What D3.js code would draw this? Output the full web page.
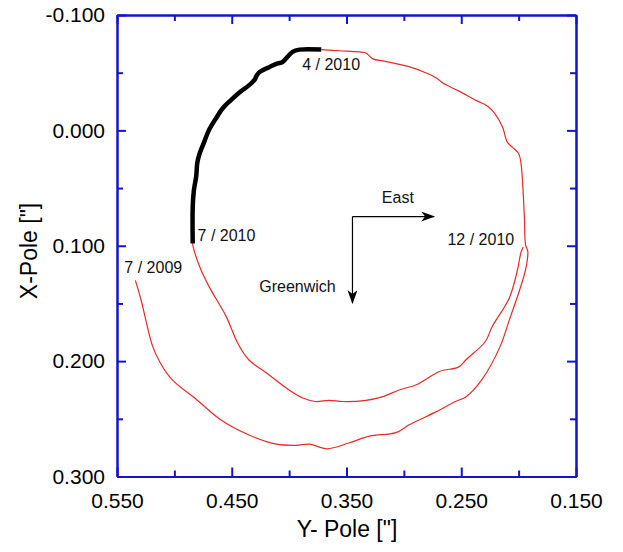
<!DOCTYPE html>
<html>
<head>
<meta charset="utf-8">
<script src="https://cdn.jsdelivr.net/npm/d3@7"></script>
<style>
  html, body { margin: 0; padding: 0; background: #fff; }
  svg { display: block; }
  text { font-family: "Liberation Sans", Arial, Helvetica, sans-serif; }
</style>
</head>
<body>
<script>
// Pole coordinates: [Y-Pole ("), X-Pole (")]
const segment2009to2010Apr = [
  [0.534, 0.130], [0.529, 0.147], [0.519, 0.187], [0.512, 0.202], [0.502, 0.216],
  [0.481, 0.233], [0.458, 0.252], [0.435, 0.264], [0.411, 0.272], [0.394, 0.273],
  [0.382, 0.272], [0.367, 0.276], [0.348, 0.271], [0.330, 0.265], [0.307, 0.262],
  [0.295, 0.255], [0.272, 0.244], [0.255, 0.235], [0.246, 0.231], [0.232, 0.216],
  [0.216, 0.187], [0.208, 0.164], [0.200, 0.141], [0.194, 0.121], [0.192, 0.105],
  [0.194, 0.099], [0.195, 0.075], [0.198, 0.028], [0.200, 0.020], [0.205, 0.015],
  [0.210, 0.010], [0.214, -0.003], [0.221, -0.015], [0.227, -0.021], [0.237, -0.026],
  [0.252, -0.034], [0.266, -0.041], [0.271, -0.045], [0.281, -0.050], [0.295, -0.055],
  [0.317, -0.060], [0.327, -0.062], [0.333, -0.067], [0.339, -0.068], [0.356, -0.069],
  [0.372, -0.070]
];
const segment2010AprToJul = [
  [0.372, -0.070], [0.391, -0.070], [0.397, -0.068], [0.403, -0.062], [0.406, -0.059],
  [0.410, -0.058], [0.417, -0.055], [0.425, -0.051], [0.428, -0.048], [0.430, -0.044],
  [0.435, -0.039], [0.442, -0.034], [0.451, -0.026], [0.458, -0.019], [0.464, -0.010],
  [0.470, 0.000], [0.474, 0.010], [0.478, 0.020], [0.480, 0.028], [0.481, 0.040],
  [0.483, 0.052], [0.484, 0.066], [0.484, 0.098]
];
const segment2010JulToDec = [
  [0.484, 0.098], [0.484, 0.099], [0.478, 0.118], [0.470, 0.135], [0.455, 0.161],
  [0.445, 0.184], [0.435, 0.199], [0.420, 0.210], [0.400, 0.225], [0.388, 0.232],
  [0.377, 0.235], [0.365, 0.234], [0.353, 0.235], [0.333, 0.234], [0.319, 0.231],
  [0.304, 0.225], [0.288, 0.220], [0.269, 0.209], [0.252, 0.205], [0.246, 0.199],
  [0.229, 0.183], [0.223, 0.170], [0.208, 0.145], [0.201, 0.121], [0.198, 0.106],
  [0.196, 0.101]
];

const xMajorTicks = [0.55, 0.45, 0.35, 0.25, 0.15];
const xMinorTicks = [0.50, 0.40, 0.30, 0.20];
const yMajorTicks = [-0.1, 0.0, 0.1, 0.2, 0.3];
const yMinorTicks = [-0.05, 0.05, 0.15, 0.25];

const dateLabels = [
  { text: "7 / 2009", y: 0.5436, x: 0.1232 },
  { text: "7 / 2010", y: 0.4798, x: 0.0958 },
  { text: "4 / 2010", y: 0.3886, x: -0.0523 },
  { text: "12 / 2010", y: 0.2620, x: 0.0992 }
];
const directionOrigin = { y: 0.3448, x: 0.0747 };
const eastTip = { y: 0.2736, x: 0.0747 };
const greenwichTip = { y: 0.3448, x: 0.1497 };
const directionLabels = [
  { text: "East", y: 0.3192, x: 0.0629 },
  { text: "Greenwich", y: 0.4260, x: 0.1405 }
];

const W = 623, H = 552;
const plotLeft = 117, plotRight = 576, plotTop = 15, plotBottom = 476.5;
const axisColor = "#1414c8";

const svg = d3.select("body").append("svg").attr("width", W).attr("height", H);

const x = d3.scaleLinear().domain([0.55, 0.15]).range([plotLeft, plotRight]);
const y = d3.scaleLinear().domain([-0.1, 0.3]).range([plotTop, plotBottom]);
const fmt = d => d3.format(".3f")(d).replace("\u2212", "-");

function styleAxis(g) {
  g.selectAll(".domain").attr("stroke", axisColor).attr("stroke-width", 2);
  g.selectAll(".tick line").attr("stroke", axisColor).attr("stroke-width", 2);
  g.selectAll(".tick text").attr("fill", "#000").style("font-size", "21px")
    .style("font-family", "'Liberation Sans', Arial, Helvetica, sans-serif");
}

// bottom
svg.append("g").attr("transform", `translate(0,${plotBottom})`)
  .call(d3.axisBottom(x).tickValues(xMajorTicks).tickFormat(fmt)
    .tickSizeInner(-9).tickSizeOuter(0).tickPadding(17))
  .call(styleAxis);
svg.append("g").attr("transform", `translate(0,${plotBottom})`)
  .call(d3.axisBottom(x).tickValues(xMinorTicks).tickFormat("").tickSizeInner(-6).tickSizeOuter(0))
  .call(styleAxis);
// top
svg.append("g").attr("transform", `translate(0,${plotTop})`)
  .call(d3.axisTop(x).tickValues(xMajorTicks).tickFormat("").tickSizeInner(-9).tickSizeOuter(0))
  .call(styleAxis);
svg.append("g").attr("transform", `translate(0,${plotTop})`)
  .call(d3.axisTop(x).tickValues(xMinorTicks).tickFormat("").tickSizeInner(-6).tickSizeOuter(0))
  .call(styleAxis);
// left
svg.append("g").attr("transform", `translate(${plotLeft},0)`)
  .call(d3.axisLeft(y).tickValues(yMajorTicks).tickFormat(fmt)
    .tickSizeInner(-9).tickSizeOuter(0).tickPadding(12))
  .call(styleAxis);
svg.append("g").attr("transform", `translate(${plotLeft},0)`)
  .call(d3.axisLeft(y).tickValues(yMinorTicks).tickFormat("").tickSizeInner(-6).tickSizeOuter(0))
  .call(styleAxis);
// right
svg.append("g").attr("transform", `translate(${plotRight},0)`)
  .call(d3.axisRight(y).tickValues(yMajorTicks).tickFormat("").tickSizeInner(-9).tickSizeOuter(0))
  .call(styleAxis);
svg.append("g").attr("transform", `translate(${plotRight},0)`)
  .call(d3.axisRight(y).tickValues(yMinorTicks).tickFormat("").tickSizeInner(-6).tickSizeOuter(0))
  .call(styleAxis);

// axis titles
svg.append("text")
  .attr("transform", `translate(37,251) rotate(-90)`)
  .attr("text-anchor", "middle").style("font-size", "23px").attr("fill", "#000")
  .text('X-Pole ["]');
svg.append("text")
  .attr("x", 347).attr("y", 537)
  .attr("text-anchor", "middle").style("font-size", "23px").attr("fill", "#000")
  .text('Y- Pole ["]');

// curves
const line = d3.line().x(d => x(d[0])).y(d => y(d[1])).curve(d3.curveCatmullRom.alpha(0.5));
svg.append("path").datum(segment2009to2010Apr).attr("d", line)
  .attr("fill", "none").attr("stroke", "#e52a2a").attr("stroke-width", 1.2)
  .attr("stroke-linejoin", "round");
svg.append("path").datum(segment2010JulToDec).attr("d", line)
  .attr("fill", "none").attr("stroke", "#e52a2a").attr("stroke-width", 1.2)
  .attr("stroke-linejoin", "round");
svg.append("path").datum(segment2010AprToJul).attr("d", line)
  .attr("fill", "none").attr("stroke", "#000").attr("stroke-width", 4.5)
  .attr("stroke-linejoin", "round");

// date labels
svg.selectAll("text.date").data(dateLabels).join("text").attr("class", "date")
  .attr("x", d => x(d.y)).attr("y", d => y(d.x))
  .style("font-size", "16px").attr("fill", "#111").text(d => d.text);

// direction arrows
const defs = svg.append("defs");
defs.append("marker").attr("id", "arrow")
  .attr("viewBox", "0 0 14 10").attr("refX", 13).attr("refY", 5)
  .attr("markerWidth", 14).attr("markerHeight", 10).attr("markerUnits", "userSpaceOnUse")
  .attr("orient", "auto")
  .append("path").attr("d", "M0,0 L14,5 L0,10 L4,5 Z").attr("fill", "#000");

svg.append("line")
  .attr("x1", x(directionOrigin.y)).attr("y1", y(directionOrigin.x))
  .attr("x2", x(eastTip.y)).attr("y2", y(eastTip.x))
  .attr("stroke", "#000").attr("stroke-width", 1.2).attr("marker-end", "url(#arrow)");
svg.append("line")
  .attr("x1", x(directionOrigin.y)).attr("y1", y(directionOrigin.x))
  .attr("x2", x(greenwichTip.y)).attr("y2", y(greenwichTip.x))
  .attr("stroke", "#000").attr("stroke-width", 1.2).attr("marker-end", "url(#arrow)");

svg.selectAll("text.dir").data(directionLabels).join("text").attr("class", "dir")
  .attr("x", d => x(d.y)).attr("y", d => y(d.x))
  .style("font-size", "16px").attr("fill", "#111").text(d => d.text);
</script>
</body>
</html>
